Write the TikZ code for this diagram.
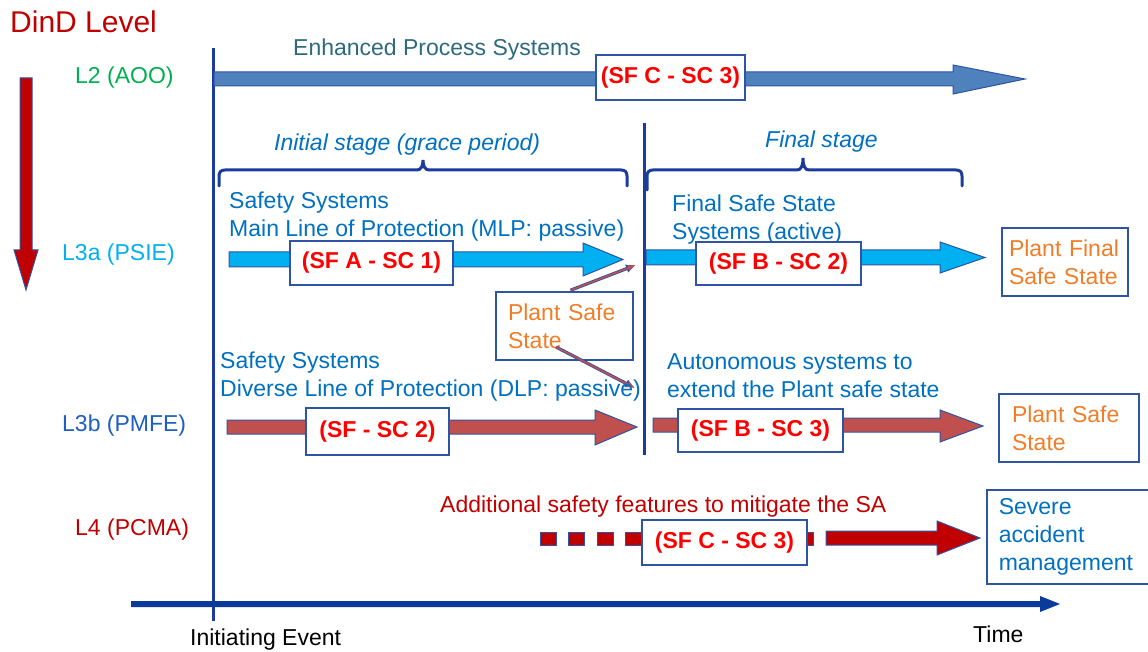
\documentclass[tikz,border=0pt]{standalone}
\usepackage{fontspec}
\setmainfont{Liberation Sans}
\usetikzlibrary{arrows.meta}
\definecolor{dred}{HTML}{C00000}
\definecolor{tblue}{HTML}{0070C0}
\definecolor{lblue}{HTML}{00B0F0}
\definecolor{mblue}{HTML}{1F5FC0}
\definecolor{lgreen}{HTML}{00B050}
\definecolor{teal2}{HTML}{2E6A7E}
\definecolor{steel}{HTML}{4F81BD}
\definecolor{rose}{HTML}{C0504D}
\definecolor{edge}{HTML}{2E54A6}
\definecolor{navy}{HTML}{1C3C9C}
\definecolor{axisblue}{HTML}{0A3A9A}
\definecolor{orng}{HTML}{F07D28}
\definecolor{sfred}{HTML}{FF0000}
\begin{document}
\begin{tikzpicture}[x=1pt,y=-1pt,
  lbl/.style={inner sep=0pt, font=\fontsize{23}{28}\selectfont, align=left},
  sfbox/.style={draw=edge, line width=1.5pt, fill=white, inner sep=0pt,
    font=\bfseries\fontsize{23}{26}\selectfont, text=sfred},
  statebox/.style={draw=edge, line width=1.5pt, fill=white, inner ysep=0pt,
    font=\fontsize{23}{28}\selectfont, align=left},
  barrow/.style={draw=edge, line width=1pt, line join=miter},
  vline/.style={draw=navy, line width=3pt},
  bracestyle/.style={draw=navy, line width=3pt, line cap=round}]
\useasboundingbox (0,0) rectangle (1148,652);

% title and levels
\node[lbl, anchor=west, text=dred, font=\fontsize{30}{32}\selectfont] (title) at (10,22) {DinD Level};
\node[lbl, anchor=west, text=lgreen] (l2) at (75,78) {L2 (AOO)};
\node[lbl, anchor=west, text=lblue] (l3a) at (62,255) {L3a (PSIE)};
\node[lbl, anchor=west, text=mblue] (l3b) at (62,426) {L3b (PMFE)};
\node[lbl, anchor=west, text=dred] (l4) at (75,530) {L4 (PCMA)};

% down arrow
\fill[dred, barrow] (20,78) -- (32,78) -- (32,250) -- (38,250) -- (26,290) -- (14,250) -- (20,250) -- cycle;

% vertical lines
\coordinate (ie1) at (213,48); \coordinate (ie2) at (213,621);
\draw[vline] (ie1) -- (ie2);
\coordinate (st1) at (644,123); \coordinate (st2) at (644,455);
\draw[vline] (st1) -- (st2);

% time axis
\fill[axisblue] (131,601) -- (1040,601) -- (1040,596) -- (1060,604) -- (1040,612) -- (1040,607) -- (131,607) -- cycle;
\node[lbl, anchor=west] (ie) at (190,640) {Initiating Event};
\node[lbl, anchor=west] (time) at (973,634) {Time};

% L2 arrow
\fill[steel, barrow] (214,72) -- (953,72) -- (953,65) -- (1025,79) -- (953,94) -- (953,86) -- (214,86) -- cycle;
\node[lbl, anchor=west, text=teal2] (eps) at (293,50) {Enhanced Process Systems};
\node[sfbox, minimum width=149pt, minimum height=45pt] (sfc3top) at (670.5,77.5) {(SF C - SC 3)};

% braces
\draw[bracestyle] (219,186) -- (219,176) .. controls (219,172) and (221,170) .. (225,170) -- (417,170)
  .. controls (421,170) and (423,166) .. (423,160) .. controls (423,166) and (425,170) .. (429,170)
  -- (621,170) .. controls (625,170) and (627,172) .. (627,176) -- (627,186);
\draw[bracestyle] (647,190) -- (647,176) .. controls (647,172) and (649,170) .. (653,170) -- (797,170)
  .. controls (801,170) and (803,166) .. (803,158) .. controls (803,166) and (805,170) .. (809,170)
  -- (956,170) .. controls (960,170) and (962,172) .. (962,176) -- (962,186);
\node[lbl, anchor=west, text=tblue, font=\itshape\fontsize{23}{28}\selectfont] (init) at (274,145) {Initial stage (grace period)};
\node[lbl, anchor=west, text=tblue, font=\itshape\fontsize{23}{28}\selectfont] (fin) at (765,142) {Final stage};

% L3a
\node[lbl, anchor=west, text=tblue] (mlp) at (229,217) {Safety Systems\\Main Line of Protection (MLP: passive)};
\fill[lblue, barrow] (229,252) -- (583,252) -- (583,243) -- (623,259.5) -- (583,276) -- (583,267) -- (229,267) -- cycle;
\node[sfbox, minimum width=163pt, minimum height=44pt] (sfa1) at (371.5,263) {(SF A - SC 1)};

\node[lbl, anchor=west, text=tblue] (fss) at (672,219.5) {Final Safe State\\Systems (active)};
\fill[lblue, barrow] (646,250) -- (940,250) -- (940,242) -- (985,257.5) -- (940,273) -- (940,265) -- (646,265) -- cycle;
\node[sfbox, minimum width=165pt, minimum height=43pt] (sfb2) at (778.5,263.5) {(SF B - SC 2)};
\node[statebox, text=orng, inner xsep=7pt, text width=112pt, minimum height=68pt] (pfss) at (1065,262) {Plant Final\\Safe State};

% plant safe state middle
\node[statebox, text=orng, inner xsep=12pt, text width=113pt, minimum height=68pt] (pss) at (564.5,326) {Plant Safe\\State};
\coordinate (pa1) at (636,265);
\coordinate (pa2) at (635,388);
\draw[draw=edge, line width=3.2pt, -{Latex[length=10pt,width=9pt]}] (pss.north) ++(6,-1) coordinate (ps1) -- (pa1);
\draw[draw=rose, line width=1.6pt, -{Latex[length=8pt,width=6pt]}] (ps1) -- (pa1);
\coordinate (ps2) at (556,347);
\draw[draw=edge, line width=3.2pt, -{Latex[length=10pt,width=9pt]}] (ps2) -- (pa2);
\draw[draw=rose, line width=1.6pt, -{Latex[length=8pt,width=6pt]}] (ps2) -- (pa2);

% L3b
\node[lbl, anchor=west, text=tblue] (dlp) at (220,377) {Safety Systems\\Diverse Line of Protection (DLP: passive)};
\fill[rose, barrow] (227,420) -- (595,420) -- (595,410) -- (637,427) -- (595,445) -- (595,434) -- (227,434) -- cycle;
\node[sfbox, minimum width=143pt, minimum height=47pt] (sf2) at (377.5,431.5) {(SF - SC 2)};

\node[lbl, anchor=west, text=tblue] (auto) at (667,376) {Autonomous systems to\\extend the Plant safe state};
\fill[rose, barrow] (653,418) -- (940,418) -- (940,410) -- (983,426) -- (940,442) -- (940,432) -- (653,432) -- cycle;
\node[sfbox, minimum width=165pt, minimum height=43pt] (sfb3) at (760.5,430.5) {(SF B - SC 3)};
\node[statebox, text=orng, inner xsep=13pt, text width=114pt, minimum height=68pt] (pss2) at (1069,428) {Plant Safe\\State};

% L4
\node[lbl, anchor=west, text=dred] (add) at (440,507) {Additional safety features to mitigate the SA};
\foreach \k in {0,...,9} {
  \fill[dred, draw=edge, line width=1pt] ({540+28.6*\k},532) rectangle ++(16,13);
}
\fill[dred, barrow] (826,531) -- (937,531) -- (937,521) -- (980,538) -- (937,555) -- (937,545) -- (826,545) -- cycle;
\node[sfbox, minimum width=165pt, minimum height=45pt] (sfc3) at (724.5,542.5) {(SF C - SC 3)};
\node[statebox, text=tblue, anchor=west, inner xsep=12pt, text width=142pt, minimum height=94pt] (sam) at (986,537) {Severe\\accident\\management};
\end{tikzpicture}
\end{document}
